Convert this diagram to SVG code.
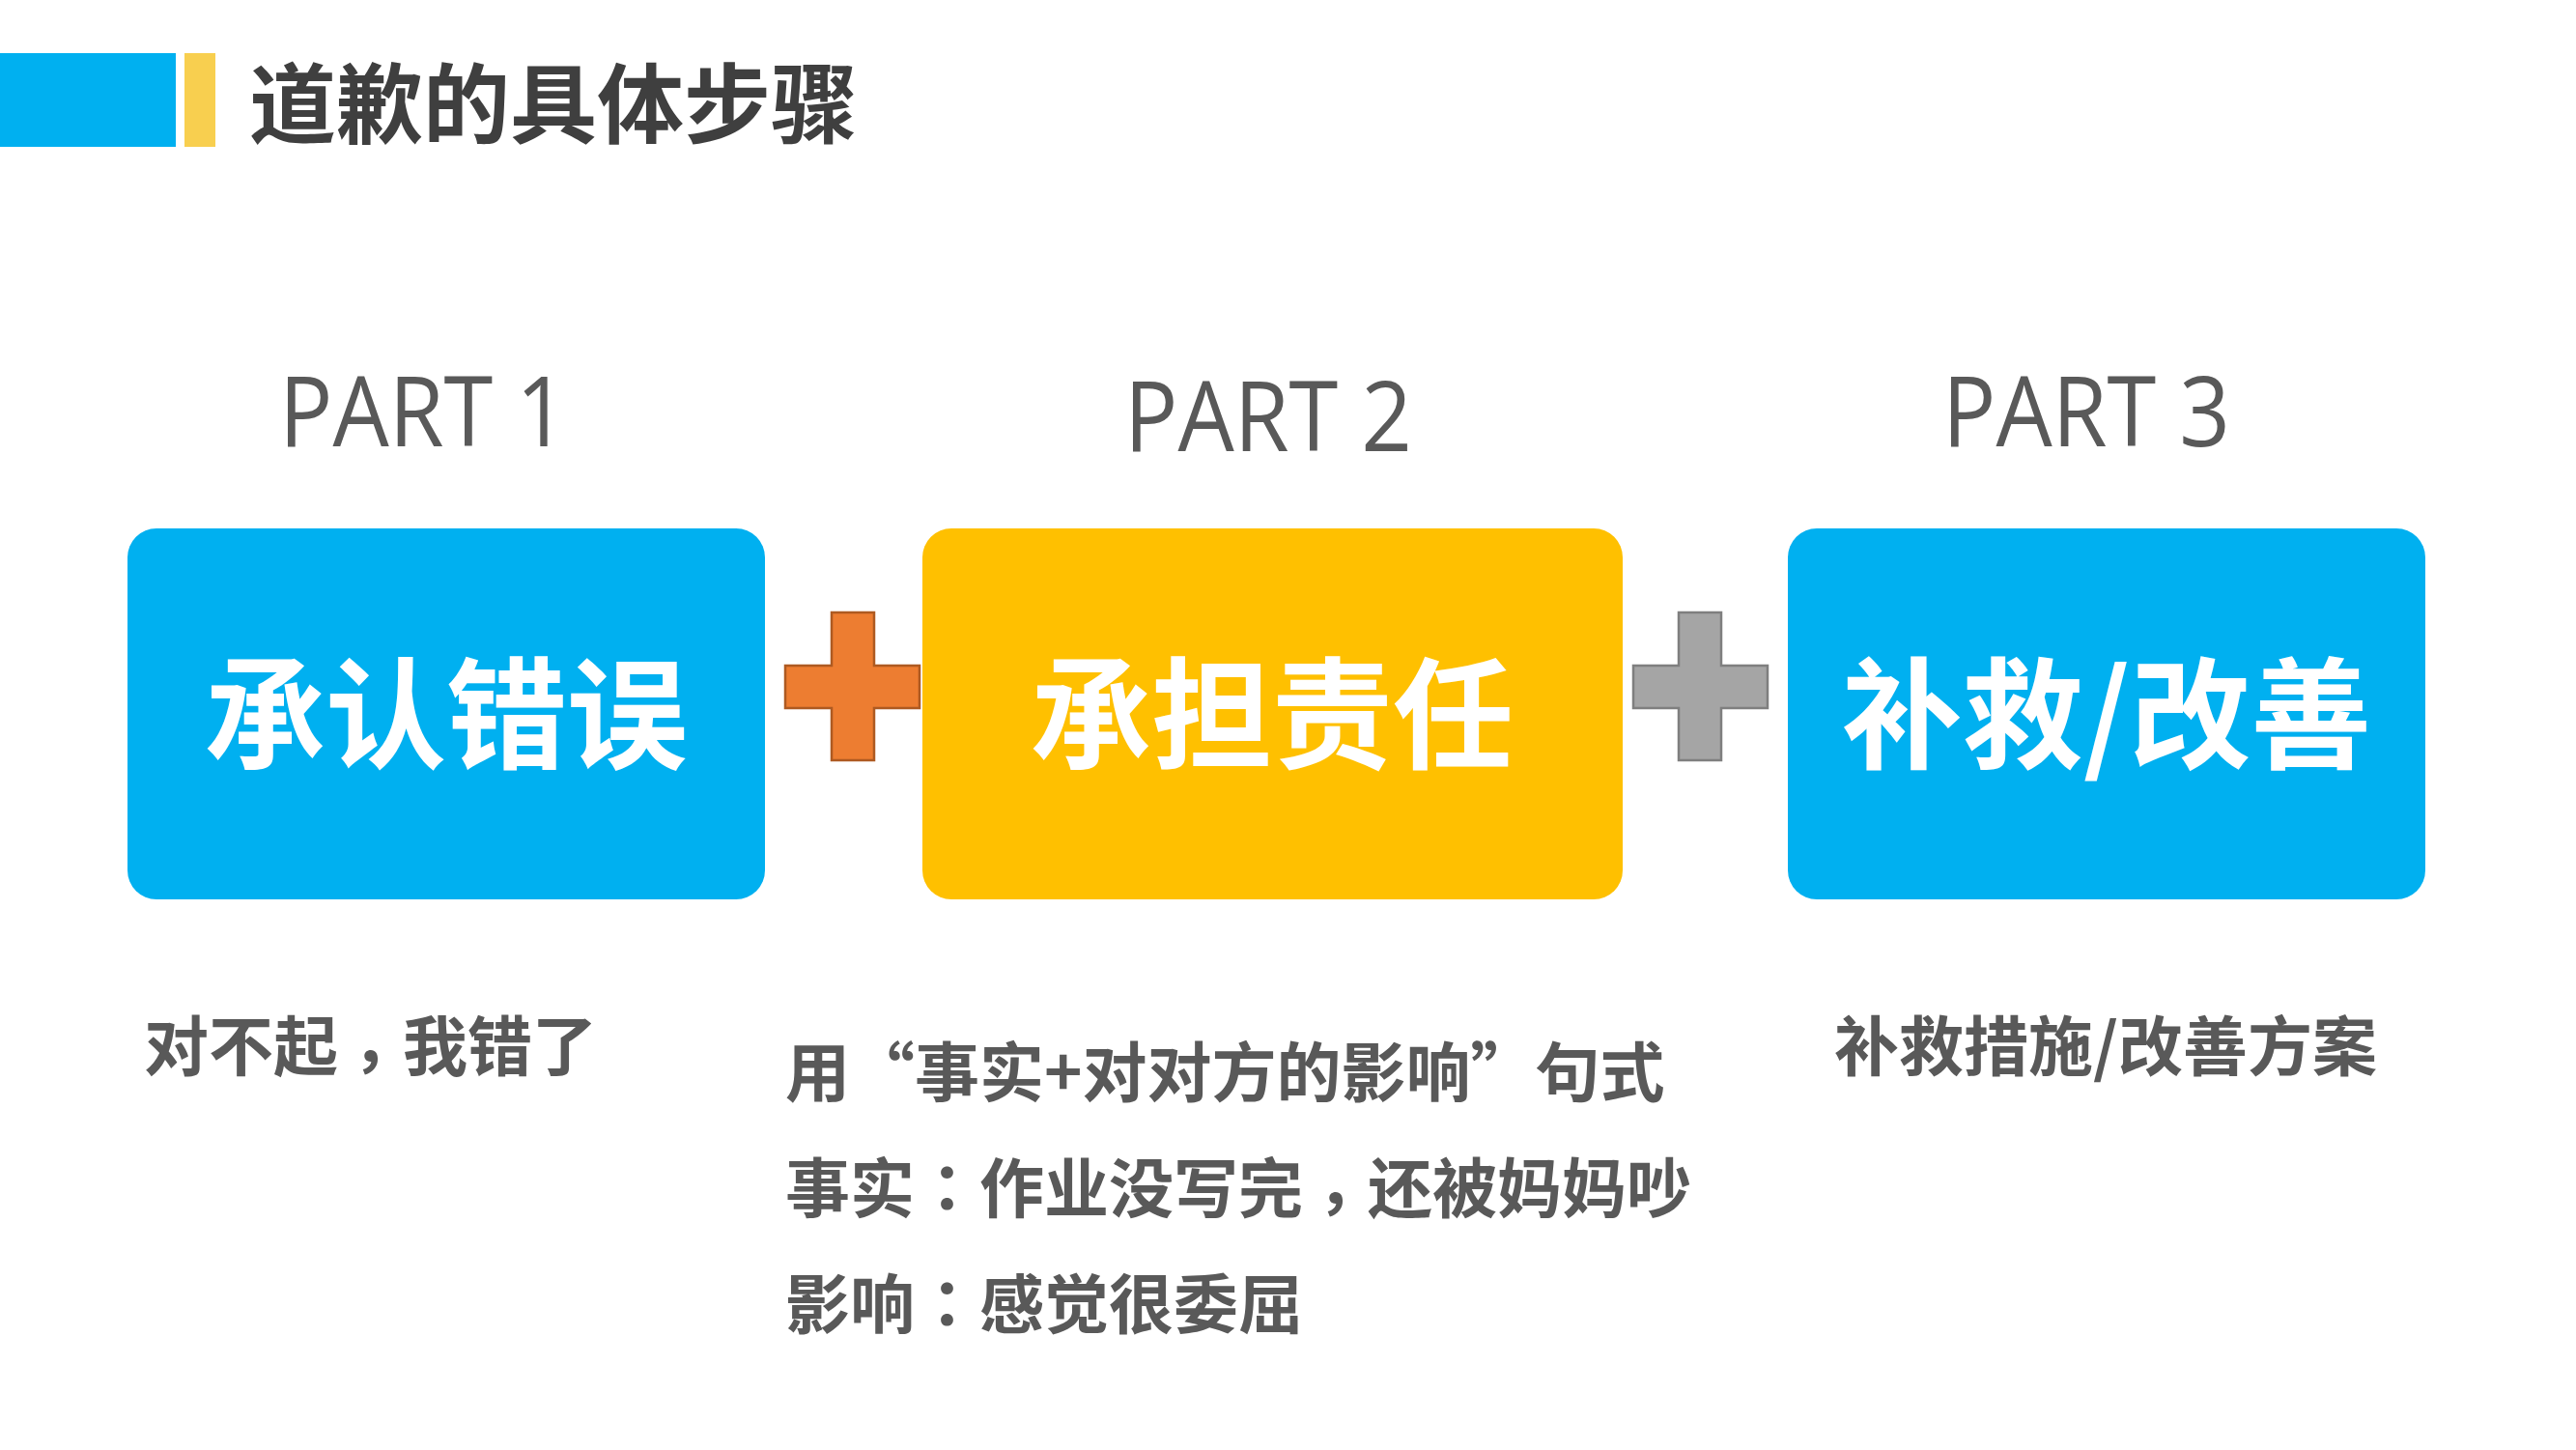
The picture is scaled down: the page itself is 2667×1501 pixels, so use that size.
<svg xmlns="http://www.w3.org/2000/svg" width="2667" height="1501" viewBox="0 0 2667 1501">
<style>
.cjk{font-family:"Noto Sans CJK SC","Noto Sans",sans-serif;font-weight:bold}
.tc{font-family:"Noto Sans CJK TC","Noto Sans CJK SC",sans-serif}
.title{font-size:90px;fill:#3f3f3f}
.part{font-family:"Open Sans","Liberation Sans",sans-serif;font-weight:400;font-size:100px;fill:#595959;text-anchor:middle}
.box-label{font-size:125px;fill:#ffffff;text-anchor:middle}
.desc{font-size:67px;fill:#595959}
.blue{fill:#00B0F0}
.gold{fill:#FFC000}
</style>
<rect width="2667" height="1501" fill="#ffffff"/>
<g id="header">
<rect x="0" y="55" width="182" height="97" fill="#00B0F0"/>
<rect x="191" y="55" width="32" height="97" fill="#F8CF4F"/>
<text class="cjk title" x="258" y="141">道歉的具体步骤</text>
</g>
<g id="part1">
<text class="part" x="438" y="462" textLength="298" lengthAdjust="spacingAndGlyphs">PART 1</text>
<rect class="blue" x="132" y="547" width="660" height="384" rx="30"/>
<text class="cjk box-label" x="462" y="786">承认错误</text>
<text class="cjk desc" x="149" y="1108">对不起<tspan class="tc" dy="15">，</tspan><tspan dy="-15">我错了</tspan></text>
</g>
<g id="part2">
<text class="part" x="1313" y="467" textLength="298" lengthAdjust="spacingAndGlyphs">PART 2</text>
<rect class="gold" x="955" y="547" width="725" height="384" rx="30"/>
<text class="cjk box-label" x="1317" y="786">承担责任</text>
<text class="cjk desc" x="813" y="1135">用“事实+对对方的影响”句式</text>
<text class="cjk desc" x="813" y="1255">事实<tspan class="tc">：</tspan>作业没写完<tspan class="tc" dy="15">，</tspan><tspan dy="-15">还被妈妈吵</tspan></text>
<text class="cjk desc" x="813" y="1375">影响<tspan class="tc">：</tspan>感觉很委屈</text>
</g>
<g id="part3">
<text class="part" x="2160" y="462" textLength="298" lengthAdjust="spacingAndGlyphs">PART 3</text>
<rect class="blue" x="1851" y="547" width="660" height="384" rx="30"/>
<text class="cjk box-label" x="2181" y="786">补救/改善</text>
<text class="cjk desc" x="1899" y="1108">补救措施/改善方案</text>
</g>
<g id="connectors" stroke-width="2.5">
<path d="M861 634 H905 V689 H952 V733 H905 V787 H861 V733 H813 V689 H861 Z" fill="#ED7D31" stroke="#AE5A21"/>
<path d="M1738 634 H1782 V689 H1830 V733 H1782 V787 H1738 V733 H1691 V689 H1738 Z" fill="#A5A5A5" stroke="#7F7F7F"/>
</g>
</svg>
